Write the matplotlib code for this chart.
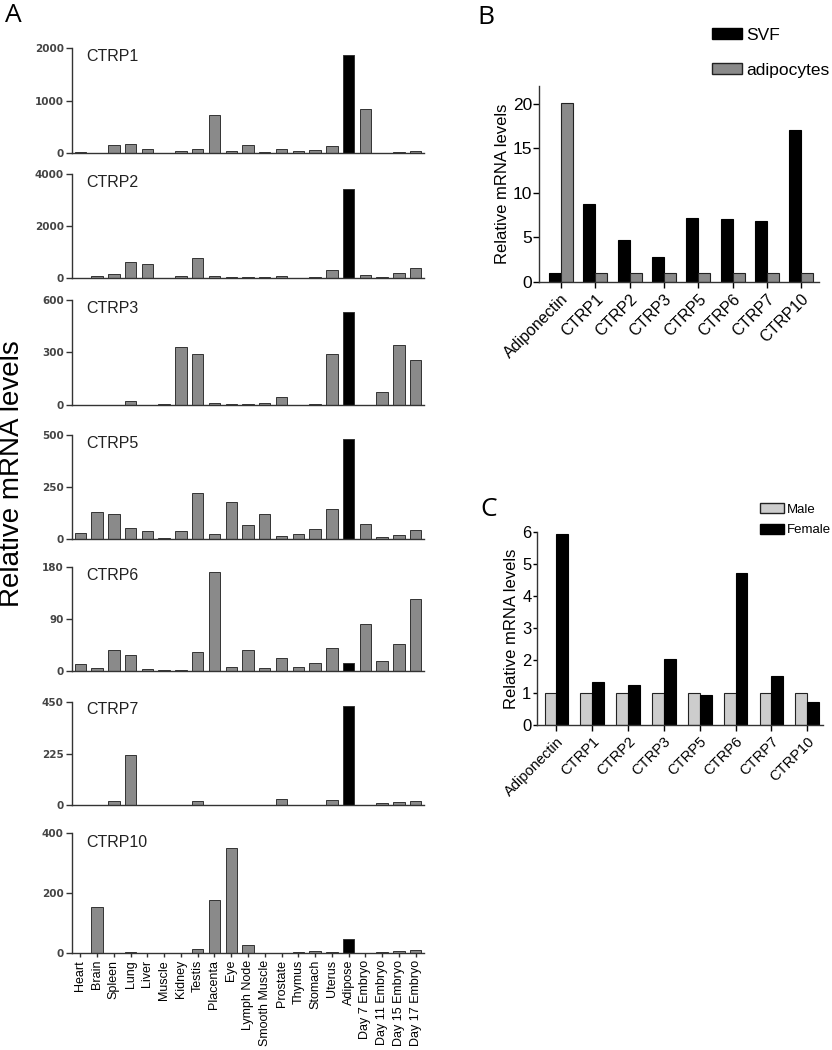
import numpy as np
import matplotlib.pyplot as plt
from matplotlib.patches import Patch

plt.rcParams['font.family'] = ['Liberation Sans', 'DejaVu Sans']

# ---- panel A data: tissue distribution ----
tissues = ['Heart', 'Brain', 'Spleen', 'Lung', 'Liver', 'Muscle', 'Kidney', 'Testis',
           'Placenta', 'Eye', 'Lymph Node', 'Smooth Muscle', 'Prostate', 'Thymus',
           'Stomach', 'Uterus', 'Adipose', 'Day 7 Embryo', 'Day 11 Embryo',
           'Day 15 Embryo', 'Day 17 Embryo']
ctrp1 = [20, 5, 146, 165, 70, 5, 38, 76, 717, 44, 152, 15, 76, 38, 63, 127, 1880, 845, 5, 20, 30]
ctrp2 = [10, 76, 178, 624, 560, 5, 76, 790, 76, 64, 38, 50, 100, 5, 38, 318, 3427, 115, 64, 190, 400]
ctrp3 = [0, 0, 0, 21, 0, 2, 329, 290, 10, 6, 3, 11, 44, 0, 6, 290, 533, 0, 73, 342, 259]
ctrp5 = [32, 133, 123, 53, 40, 8, 38, 224, 24, 181, 67, 121, 16, 24, 48, 145, 481, 75, 13, 22, 46]
ctrp6 = [12, 4.6, 35, 26.5, 3, 1.5, 1.5, 33, 170, 6, 35, 4, 22, 5.8, 14, 39, 14, 81, 17, 47, 124]
ctrp7 = [3, 0, 20, 217, 2, 0, 3, 17, 0, 2, 3, 3, 26, 0, 2, 23, 433, 0, 10, 16, 17]
ctrp10 = [0, 153, 0, 3, 0, 0, 0, 12, 178, 352, 27, 0, 0, 3, 6, 4.5, 47, 0, 3, 6, 11]
panel_a = [('CTRP1', ctrp1, 2000), ('CTRP2', ctrp2, 4000), ('CTRP3', ctrp3, 600),
           ('CTRP5', ctrp5, 500), ('CTRP6', ctrp6, 180), ('CTRP7', ctrp7, 450),
           ('CTRP10', ctrp10, 400)]

# ---- panel B data: SVF vs adipocytes ----
genes = ['Adiponectin', 'CTRP1', 'CTRP2', 'CTRP3', 'CTRP5', 'CTRP6', 'CTRP7', 'CTRP10']
svf = [1.0, 8.76, 4.68, 2.77, 7.15, 7.04, 6.78, 17.08]
adipocytes = [20.07, 1, 1, 1, 1, 1, 1, 1]

# ---- panel C data: male vs female ----
male = [1, 1, 1, 1, 1, 1, 1, 1]
female = [5.95, 1.34, 1.23, 2.05, 0.92, 4.72, 1.51, 0.72]

W, H = 832, 1050
fig = plt.figure(figsize=(W / 100, H / 100), dpi=100)


def px_axes(l, t, r, b):
    return fig.add_axes([l / W, 1 - b / H, (r - l) / W, (b - t) / H])


def style(ax):
    ax.spines['top'].set_visible(False)
    ax.spines['right'].set_visible(False)
    ax.spines['left'].set_color('#333333')
    ax.spines['bottom'].set_color('#333333')
    ax.spines['left'].set_linewidth(1.0)
    ax.spines['bottom'].set_linewidth(1.0)


# panel A
gray = '#8a8a8a'
rows = [(48.3, 153), (173.7, 278.3), (300, 404.7), (435, 539.3),
        (566.7, 670.7), (701.7, 805.3), (833.3, 953)]
x = np.arange(len(tissues))
colors = ['black' if t == 'Adipose' else gray for t in tissues]
for i, (name, vals, ymax) in enumerate(panel_a):
    top, bot = rows[i]
    ax = px_axes(72, top, 424, bot)
    ax.bar(x, vals, width=0.68, color=colors, edgecolor='#333333', linewidth=0.7)
    ax.set_xlim(-0.5, 20.5)
    ax.set_ylim(0, ymax)
    ax.set_yticks([0, ymax / 2, ymax])
    ax.set_yticklabels([f'{int(v)}' for v in [0, ymax / 2, ymax]],
                       fontsize=7.5, fontweight='bold', color='#444444',
                       family=['DejaVu Sans'])
    ax.tick_params(axis='y', length=4, width=1, color='#333333', pad=2)
    style(ax)
    ax.text(0.04, 0.92, name, transform=ax.transAxes, fontsize=11.5,
            ha='left', va='center', color='#222222')
    if i == len(panel_a) - 1:
        ax.set_xticks(x)
        ax.set_xticklabels(tissues, rotation=90, fontsize=9)
        ax.tick_params(axis='x', length=3, width=1, color='#333333', pad=2)
    else:
        ax.set_xticks([])

fig.text(12 / W, 1 - 474 / H, 'Relative mRNA levels', rotation=90,
         fontsize=20, ha='center', va='center')

# panel B
axb = px_axes(539, 86, 819, 281.7)
g = np.arange(len(genes))
bw = 0.35
axb.bar(g - bw / 2, svf, width=bw, color='black', edgecolor='black', linewidth=0.8, label='SVF')
axb.bar(g + bw / 2, adipocytes, width=bw, color=gray, edgecolor='#222222', linewidth=0.8,
        label='adipocytes')
axb.set_xlim(-0.64, 7.52)
axb.set_ylim(0, 22)
axb.set_yticks([0, 5, 10, 15, 20])
axb.set_xticks(g)
axb.set_xticklabels(genes, rotation=45, ha='right', rotation_mode='anchor', fontsize=11.5)
axb.tick_params(axis='y', labelsize=12.5, length=4, width=1, pad=1)
axb.tick_params(axis='x', length=4, width=1, pad=3)
axb.set_ylabel('Relative mRNA levels', fontsize=12, labelpad=2)
style(axb)
fig.legend(handles=[Patch(facecolor='black', edgecolor='black', label='SVF'),
                    Patch(facecolor=gray, edgecolor='#222222', label='adipocytes')],
           loc='upper left', bbox_to_anchor=(712 / W, 1 - 28 / H), frameon=False,
           fontsize=12.5, handlelength=1.75, handleheight=0.6, labelspacing=1.15,
           handletextpad=0.2, borderpad=0, borderaxespad=0)

# panel C
axc = px_axes(537, 532, 823, 724.7)
bw = 0.33
axc.bar(g - bw / 2, male, width=bw, color='#cdcdcd', edgecolor='#222222', linewidth=0.8)
axc.bar(g + bw / 2, female, width=bw, color='black', edgecolor='black', linewidth=0.8)
axc.set_xlim(-0.54, 7.44)
axc.set_ylim(0, 6)
axc.set_yticks(range(7))
axc.set_xticks(g)
axc.set_xticklabels(genes, rotation=45, ha='right', rotation_mode='anchor', fontsize=10.5)
axc.tick_params(axis='y', labelsize=12, length=3, width=1, pad=1)
axc.tick_params(axis='x', length=4, width=1, pad=3)
axc.set_ylabel('Relative mRNA levels', fontsize=12, labelpad=2)
style(axc)
fig.legend(handles=[Patch(facecolor='#cdcdcd', edgecolor='#222222', label='Male'),
                    Patch(facecolor='black', edgecolor='black', label='Female')],
           loc='upper left', bbox_to_anchor=(760 / W, 1 - 503 / H), frameon=False,
           fontsize=9.5, handlelength=1.8, handleheight=0.8, labelspacing=0.6,
           handletextpad=0.2, borderpad=0, borderaxespad=0)

# panel letters
for letter, lx, ly in [('A', 13, 15), ('B', 486, 17), ('C', 489, 509)]:
    fig.text(lx / W, 1 - ly / H, letter, fontsize=19, ha='center', va='center',
             family=['Open Sans', 'DejaVu Sans'])

fig.savefig('out.png', dpi=100)
